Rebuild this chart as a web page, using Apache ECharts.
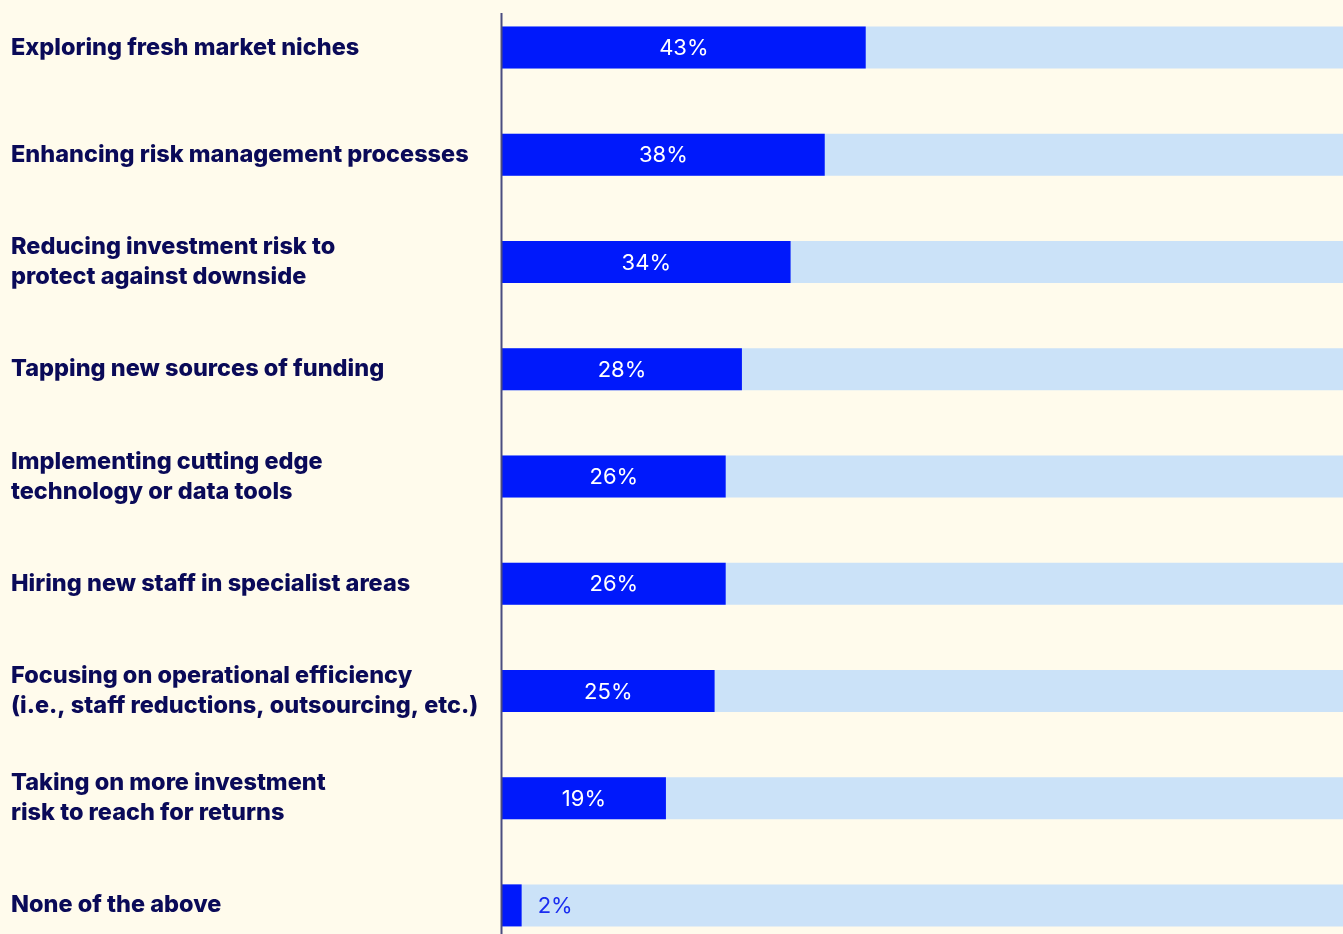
<!DOCTYPE html>
<html>
<head>
<meta charset="utf-8">
<script src="https://cdn.jsdelivr.net/npm/echarts@6/dist/echarts.min.js"></script>
<style>
html,body{margin:0;padding:0;background:#fffbec;}
#c{width:1343px;height:934px;}
</style>
</head>
<body>
<div id="c"></div>
<script>
const categories = [
  "Exploring fresh market niches",
  "Enhancing risk management processes",
  "Reducing investment risk to\nprotect against downside",
  "Tapping new sources of funding",
  "Implementing cutting edge\ntechnology or data tools",
  "Hiring new staff in specialist areas",
  "Focusing on operational efficiency\n(i.e., staff reductions, outsourcing, etc.)",
  "Taking on more investment\nrisk to reach for returns",
  "None of the above"
];
const values = [42.6, 37.8, 33.8, 28.1, 26.2, 26.2, 24.9, 19.2, 2.3];
const axisMax = 98.5;

const chart = echarts.init(document.getElementById('c'));
chart.setOption({
  backgroundColor: '#fffbec',
  animation: false,
  grid: {left: 502, right: 0, top: -6, height: 965, containLabel: false, outerBoundsMode: 'none'},
  xAxis: {
    type: 'value', min: 0, max: axisMax,
    show: false
  },
  yAxis: {
    type: 'category', data: categories, inverse: true,
    axisLine: {show: false},
    axisTick: {show: false},
    splitLine: {show: false},
    axisLabel: {
      align: 'left', margin: 491,
      fontFamily: 'Inter', fontWeight: 800, fontSize: 23.5,
      lineHeight: 30, color: '#0a0a58'
    }
  },
  graphic: [{
    type: 'line', z: 10,
    shape: {x1: 501.5, y1: 13, x2: 501.5, y2: 934},
    style: {stroke: '#4b4d80', lineWidth: 2}
  }],
  series: [{
    type: 'bar',
    data: values.map((v) => ({
      value: v,
      label: v < 5 ? {position: 'right', distance: 16, color: '#1a2cf0'} : undefined
    })),
    barWidth: 42,
    itemStyle: {color: '#0019fb'},
    showBackground: true,
    backgroundStyle: {color: '#cbe2f8'},
    label: {
      show: true, position: 'inside', offset: [0, 1],
      color: '#ffffff', fontFamily: 'Inter', fontSize: 22,
      formatter: (p) => Math.round(p.value) + '%'
    }
  }]
});
</script>
</body>
</html>
